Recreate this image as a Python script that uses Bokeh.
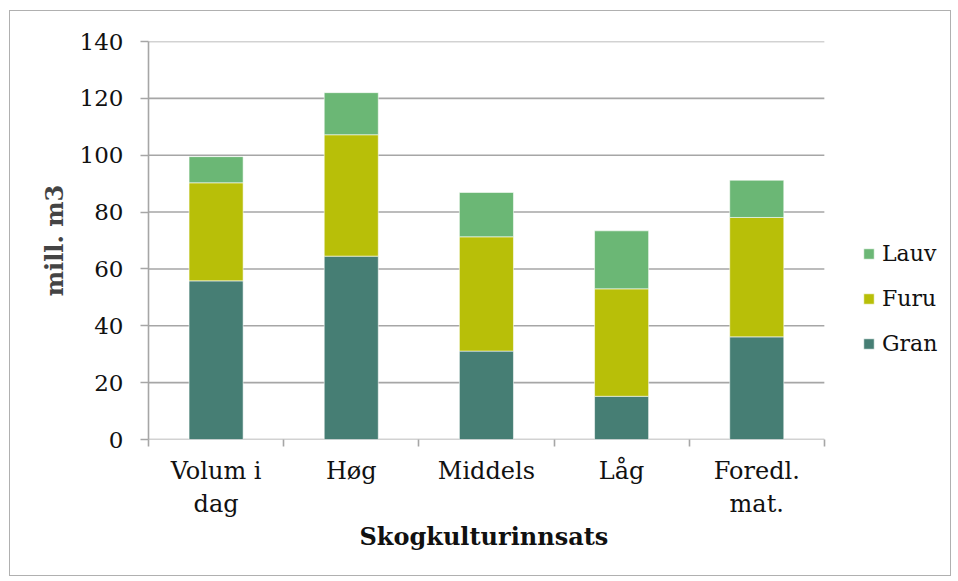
import numpy as np
from bokeh.plotting import figure
from bokeh.models import (ColumnDataSource, Range1d, FixedTicker, Legend, LegendItem, Title)
from bokeh.embed import file_html
from bokeh.resources import INLINE

categories = ["Volum i\ndag", "Høg", "Middels", "Låg", "Foredl.\nmat."]
series = ["Gran", "Furu", "Lauv"]
gran = [55.8, 64.5, 31.1, 15.2, 36.1]
furu = [34.5, 42.7, 40.2, 37.8, 42.0]
lauv = [9.2, 14.8, 15.6, 20.4, 13.1]
colors = ["#467E74", "#B8BF08", "#6BB775"]
y_ticks = [0, 20, 40, 60, 80, 100, 120, 140]

FONT = "DejaVu Serif"
GRID = "#a6a6a6"

n = len(categories)
xs = np.arange(n) + 0.5
source = ColumnDataSource(dict(x=xs, Gran=gran, Furu=furu, Lauv=lauv))

# plot area spans n category slots; the frame continues to the right for the legend
plot_px, frame_px = 675, 802
p = figure(width=942, height=566, output_backend="svg", toolbar_location=None,
           x_range=Range1d(0, n * frame_px / plot_px), y_range=Range1d(0, 140),
           min_border_left=138, min_border_top=30, min_border_bottom=138,
           min_border_right=1)
p.margin = (10, 0, 0, 9)
p.outline_line_color = None
p.styles = {"border": "1px solid #b0b0b0"}

# horizontal gridlines only across the category area
p.xgrid.grid_line_color = None
p.ygrid.grid_line_color = None
p.segment(x0=0, x1=n, y0=y_ticks, y1=y_ticks, line_color=GRID, line_width=1.6)

renderers = p.vbar_stack(series, x="x", width=0.4, source=source, color=colors,
                         line_color="white", line_width=0.8, line_alpha=0.7)

# y axis
ya = p.yaxis[0]
ya.ticker = FixedTicker(ticks=y_ticks)
ya.axis_line_color = GRID
ya.axis_line_width = 1.6
ya.major_tick_line_color = GRID
ya.major_tick_line_width = 1.6
ya.major_tick_out = 8
ya.major_tick_in = 0
ya.minor_tick_line_color = None
ya.major_label_text_font = FONT
ya.major_label_text_font_size = "23px"
ya.major_label_text_color = "#111111"
ya.major_label_standoff = 17
ya.axis_label = "mill. m3"
ya.axis_label_text_font = FONT
ya.axis_label_text_font_style = "bold"
ya.axis_label_text_font_size = "24px"
ya.axis_label_standoff = 8

# x axis: labels at centres, tick marks at boundaries
xa = p.xaxis[0]
xa.ticker = FixedTicker(ticks=list(xs), minor_ticks=list(range(n + 1)))
xa.major_label_overrides = {float(x): c for x, c in zip(xs, categories)}
xa.axis_line_color = None
xa.major_tick_line_color = None
xa.minor_tick_line_color = GRID
xa.minor_tick_line_width = 1.6
xa.minor_tick_out = 7
xa.minor_tick_in = 0
xa.major_label_text_font = FONT
xa.major_label_text_font_size = "24px"
xa.major_label_text_color = "#111111"
xa.major_label_standoff = 10

xtitle = Title(text="Skogkulturinnsats", align="left", offset=211,
               text_font=FONT, text_font_style="bold", text_font_size="24px",
               text_color="#111111", standoff=-4)
p.add_layout(xtitle, "below")

items = [LegendItem(label=s, renderers=[r]) for s, r in zip(series, renderers)][::-1]
legend = Legend(items=items, location=(714, 83), border_line_color=None,
                background_fill_alpha=0, padding=0, margin=0,
                glyph_width=13, glyph_height=13, label_standoff=7, spacing=20,
                label_text_font=FONT, label_text_font_size="22px",
                label_text_color="#111111")
p.add_layout(legend)

open("out.html", "w").write(file_html(p, INLINE))
